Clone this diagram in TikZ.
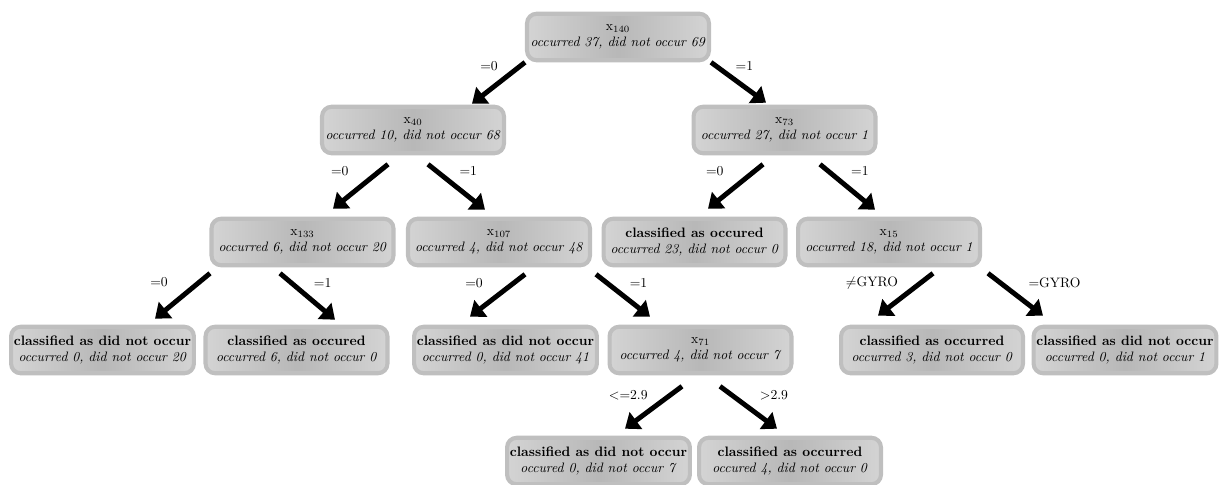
\documentclass[tikz,border=0pt]{standalone}
\usetikzlibrary{arrows.meta,calc}

\begin{document}
\begin{tikzpicture}[
    x=0.0257cm, y=-0.0257cm,
    split/.style={
      rounded corners=7pt,
      draw=gray!50,
      line width=3pt,
      left color=gray!34,
      right color=gray!34,
      middle color=gray!56,
      align=center,
      minimum width=133pt,
      minimum height=34pt,
      inner sep=2pt
    },
    branch/.style={
      -{Triangle[length=10pt,width=15pt]},
      line width=3.6pt
    },
    cond/.style={inner sep=1pt}
  ]

  \useasboundingbox (0,0) rectangle (1219,484);

  % tree nodes
  \node[split] (root) at (618,37) {x$_{140}$\\\textit{occurred 37, did not occur 69}};

  \node[split] (x40) at (413,130) {x$_{40}$\\\textit{occurred 10, did not occur 68}};
  \node[split] (x73) at (784.5,130) {x$_{73}$\\\textit{occurred 27, did not occur 1}};

  \node[split] (x133) at (302.5,242) {x$_{133}$\\\textit{occurred 6, did not occur 20}};
  \node[split] (x107) at (499,242) {x$_{107}$\\\textit{occurred 4, did not occur 48}};
  \node[split] (c23) at (694.5,242) {\textbf{classified as occured}\\\textit{occurred 23, did not occur 0}};
  \node[split] (x15) at (889,242) {x$_{15}$\\\textit{occurred 18, did not occur 1}};

  \node[split] (c20) at (102.5,350) {\textbf{classified as did not occur}\\\textit{occurred 0, did not occur 20}};
  \node[split] (c6) at (296.5,350) {\textbf{classified as occured}\\\textit{occurred 6, did not occur 0}};
  \node[split] (c41) at (505.5,350) {\textbf{classified as did not occur}\\\textit{occurred 0, did not occur 41}};
  \node[split] (x71) at (700.5,350) {x$_{71}$\\\textit{occurred 4, did not occur 7}};
  \node[split] (c3) at (932,350) {\textbf{classified as occurred}\\\textit{occurred 3, did not occur 0}};
  \node[split] (c1) at (1125,350) {\textbf{classified as did not occur}\\\textit{occurred 0, did not occur 1}};

  \node[split] (c7) at (598.5,461) {\textbf{classified as did not occur}\\\textit{occured 0, did not occur 7}};
  \node[split] (c4) at (790,461) {\textbf{classified as occurred}\\\textit{occured 4, did not occur 0}};

  % branches
  \draw[branch] ($(root.south)+(-93,0)$) -- ($(x40.north)+(59,-1)$)
    node[cond, pos=.08, anchor=east, xshift=-14pt] {=0};
  \draw[branch] ($(root.south)+(93,0)$) -- ($(x73.north)+(-18.5,-2)$)
    node[cond, pos=.08, anchor=west, xshift=12pt] {=1};

  \draw[branch] ($(x40.south)+(-25,9)$) -- ($(x133.north)+(30.5,-8)$)
    node[cond, pos=.15, anchor=east, xshift=-20pt] {=0};
  \draw[branch] ($(x40.south)+(15,9)$) -- ($(x107.north)+(-14,-7)$)
    node[cond, pos=.15, anchor=west, xshift=14pt] {=1};
  \draw[branch] ($(x73.south)+(-21.5,9)$) -- ($(c23.north)+(13.5,-8)$)
    node[cond, pos=.15, anchor=east, xshift=-20pt] {=0};
  \draw[branch] ($(x73.south)+(35.5,9)$) -- ($(x15.north)+(-14,-7)$)
    node[cond, pos=.15, anchor=west, xshift=14pt] {=1};

  \draw[branch] ($(x133.south)+(-92.5,6)$) -- ($(c20.north)+(52.5,-6)$)
    node[cond, pos=.2, anchor=east, xshift=-20pt] {=0};
  \draw[branch] ($(x133.south)+(-22.5,6)$) -- ($(c6.north)+(38.5,-5)$)
    node[cond, pos=.2, anchor=west, xshift=14pt] {=1};
  \draw[branch] ($(x107.south)+(26,7)$) -- ($(c41.north)+(-35.5,-8)$)
    node[cond, pos=.2, anchor=east, xshift=-20pt] {=0};
  \draw[branch] ($(x107.south)+(97,7)$) -- ($(x71.north)+(-50.5,-8)$)
    node[cond, pos=.2, anchor=west, xshift=14pt] {=1};
  \draw[branch] ($(x15.south)+(44,6)$) -- ($(c3.north)+(-54,-9)$)
    node[cond, pos=.22, anchor=east, xshift=-14pt] {$\neq$GYRO};
  \draw[branch] ($(x15.south)+(99,6)$) -- ($(c1.north)+(-82,-9)$)
    node[cond, pos=.22, anchor=west, xshift=18pt] {=GYRO};

  \draw[branch] ($(x71.south)+(-18.5,11)$) -- ($(c7.north)+(26.5,-7)$)
    node[cond, pos=.2, anchor=east, xshift=-14pt] {$<$=2.9};
  \draw[branch] ($(x71.south)+(19.5,11)$) -- ($(c4.north)+(-13,-7)$)
    node[cond, pos=.2, anchor=west, xshift=18pt] {$>$2.9};

\end{tikzpicture}
\end{document}
